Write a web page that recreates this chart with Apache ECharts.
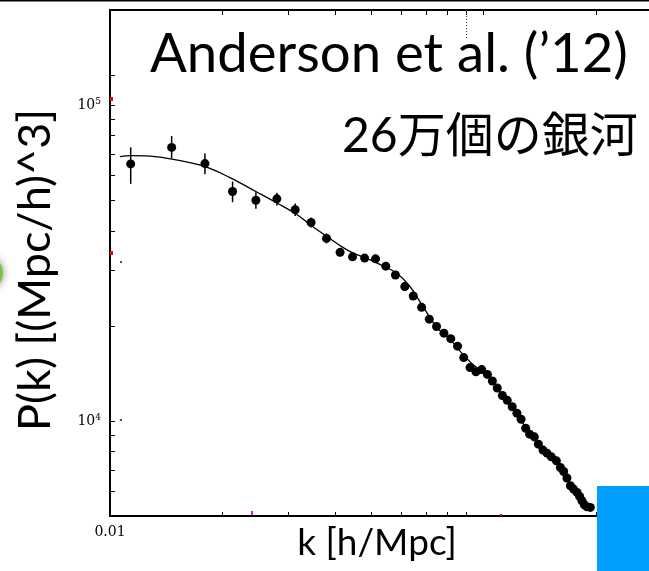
<!DOCTYPE html>
<html>
<head>
<meta charset="utf-8">
<script src="https://cdn.jsdelivr.net/npm/echarts@6/dist/echarts.min.js"></script>
<style>
  html, body { margin: 0; padding: 0; background: #fff; }
  #chart { width: 649px; height: 571px; }
</style>
</head>
<body>
<div id="chart"></div>
<script>
// Measured galaxy power spectrum P(k) with the best-fit model curve.
const kData = [0.01136, 0.01462, 0.01795, 0.02128, 0.02457, 0.02796, 0.0313, 0.03453, 0.03797, 0.04128,
  0.04456, 0.04801, 0.05136, 0.0547, 0.05806, 0.0615, 0.0648, 0.06821, 0.07151, 0.07478,
  0.07827, 0.08163, 0.08511, 0.08842, 0.09192, 0.09531, 0.09878, 0.1023, 0.1055, 0.1087,
  0.1122, 0.1156, 0.1192, 0.1227, 0.1259, 0.1295, 0.1327, 0.1366, 0.1401, 0.1441,
  0.1477, 0.1517, 0.1565, 0.1604, 0.1637, 0.167, 0.1706, 0.174, 0.1777, 0.1806,
  0.1832, 0.1859, 0.1889, 0.1929];
const pData = [65130, 73460, 65270, 53240, 49980, 50490, 46620, 42500, 37840, 34170,
  33070, 32780, 32590, 30910, 28970, 26630, 24870, 22890, 21000, 19910,
  18960, 18220, 17250, 15870, 14750, 14310, 14540, 14040, 13380, 12710,
  12040, 11620, 11090, 10580, 10120, 9483, 9078, 8903, 8442, 8083,
  7907, 7697, 7474, 7120, 6916, 6594, 6233, 6085, 5938, 5767,
  5589, 5429, 5350, 5323];
// 1-sigma bounds for the low-k bins (the rest are smaller than the markers)
const errLow  = [56300, 67820, 60380, 49260, 46950, 48080, 44560, 40990, 36490, 33190];
const errHigh = [73460, 79800, 70200, 57260, 52970, 52750, 48800, 44070, 39240, 35180];

// Model curve
const kModel = [0.010635, 0.01138, 0.01279, 0.01465, 0.01795, 0.02094, 0.02457, 0.02796, 0.03162, 0.03425,
  0.03804, 0.04198, 0.04464, 0.04867, 0.05273, 0.05853, 0.0634, 0.06871, 0.07486, 0.08112,
  0.08788, 0.09461, 0.1019, 0.1083, 0.1173, 0.1287, 0.1412, 0.1548, 0.1698, 0.1828, 0.1945];
const pModel = [68690, 69180, 68930, 67430, 63850, 58940, 53240, 48970, 45040, 41880,
  38380, 35430, 34050, 32720, 31310, 29330, 26690, 23080, 19810, 18150,
  16280, 14920, 14070, 12800, 11400, 9643, 8277, 7586, 6324, 5672, 5312];

// Axis ticks and labels
const xTicksBottom = [0.02, 0.03, 0.04, 0.05, 0.06, 0.07, 0.08, 0.09, 0.2];
const xTicksTop = [0.02, 0.03, 0.04, 0.05, 0.06, 0.07, 0.08, 0.09, 0.1, 0.2];
const xLabels = [0.01];
const yTicks = [6000, 7000, 8000, 9000, 10000, 20000, 30000, 40000, 50000, 60000, 70000, 80000, 90000, 100000, 124000];
const yLabels = [10000, 100000];

const chart = echarts.init(document.getElementById('chart'), null, { renderer: 'canvas' });

const labelFont = 'DejaVu Serif';
const black = '#000';

const option = {
  animation: false,
  backgroundColor: '#fff',
  grid: { left: 110, top: 10, right: -13, bottom: 55, containLabel: false, outerBoundsMode: 'none' },
  xAxis: [
    {
      type: 'log', logBase: 10, min: 0.01, max: 0.3, position: 'bottom',
      name: 'k [h/Mpc]', nameLocation: 'middle', nameGap: 9, nameMoveOverlap: false,
      nameTextStyle: { fontFamily: 'Lato', fontSize: 37, color: black, verticalAlign: 'top', padding: [0, 18, 0, 0] },
      axisLine: { lineStyle: { color: black, width: 2 } },
      axisTick: { inside: true, length: 4, customValues: xTicksBottom, lineStyle: { color: black, width: 1 } },
      axisLabel: { customValues: xLabels, formatter: v => v.toFixed(2), fontFamily: labelFont, fontSize: 14, color: black, margin: 9 },
      splitLine: { show: false }, minorTick: { show: false }
    },
    {
      type: 'log', logBase: 10, min: 0.01, max: 0.3, position: 'top',
      axisLine: { lineStyle: { color: black, width: 2 } },
      axisTick: { inside: true, length: 5, customValues: xTicksTop, lineStyle: { color: black, width: 1 } },
      axisLabel: { show: false },
      splitLine: { show: false }
    }
  ],
  yAxis: {
    type: 'log', logBase: 10, min: 5000, max: 200000,
    name: 'P(k) [(Mpc/h)^3]', nameLocation: 'middle', nameGap: 52, nameRotate: 90, nameMoveOverlap: false,
    nameTextStyle: { fontFamily: 'Lato', fontSize: 45, color: black, padding: [0, 14, 0, 0] },
    axisLine: { lineStyle: { color: black, width: 2 } },
    axisTick: { inside: true, length: 5, customValues: yTicks, lineStyle: { color: black, width: 1 } },
    axisLabel: {
      customValues: yLabels, margin: 9,
      formatter: v => '10{e|' + Math.round(Math.log10(v)) + '}',
      fontFamily: labelFont, fontSize: 14, color: black,
      rich: { e: { fontFamily: labelFont, fontSize: 9, color: black, verticalAlign: 'top', padding: [0, 0, 6, 0] } }
    },
    splitLine: { show: false }
  },
  series: [
    {
      type: 'line', name: 'model', xAxisIndex: 0,
      data: kModel.map((k, i) => [k, pModel[i]]),
      smooth: 0.4, showSymbol: false, symbol: 'none',
      lineStyle: { color: black, width: 1.3 }, z: 2
    },
    {
      type: 'custom', name: 'errors', xAxisIndex: 0,
      data: errLow.map((lo, i) => [kData[i], lo, errHigh[i]]),
      encode: { x: 0, y: [1, 2] },
      renderItem: (params, api) => {
        const a = api.coord([api.value(0), api.value(1)]);
        const b = api.coord([api.value(0), api.value(2)]);
        return { type: 'line', shape: { x1: a[0], y1: a[1], x2: b[0], y2: b[1] }, style: { stroke: black, lineWidth: 1.5 } };
      },
      z: 3
    },
    {
      type: 'scatter', name: 'data', xAxisIndex: 0,
      data: kData.map((k, i) => [k, pData[i]]),
      symbol: 'circle', symbolSize: 9,
      itemStyle: { color: black, opacity: 1 }, z: 4
    }
  ],
  graphic: [
    { type: 'line', shape: { x1: 0, y1: 0.5, x2: 649, y2: 0.5 }, style: { stroke: black, lineWidth: 2 }, z: 10 },
    { type: 'line', shape: { x1: 466.5, y1: 10, x2: 466.5, y2: 38 }, style: { stroke: '#333', lineWidth: 1, lineDash: [1, 2] }, z: 10 },
    { type: 'text', left: 150, top: 27, style: { text: 'Anderson et al. (\u201912)', fontFamily: 'Lato', fontSize: 54.5, fill: black }, z: 10 },
    { type: 'text', left: 342, top: 113, style: { text: '26万個の銀河', fontFamily: "Lato, 'Noto Sans CJK JP'", fontSize: 48, fill: black }, z: 10 },
    { type: 'rect', shape: { x: 597, y: 486, width: 60, height: 90 }, style: { fill: '#009ffd' }, z: 10 },
    { type: 'circle', shape: { cx: -14, cy: 273, r: 17 }, style: { fill: '#7cc242', shadowBlur: 8, shadowColor: 'rgba(0,0,0,0.45)' }, z: 10 },
    { type: 'rect', shape: { x: 110, y: 97, width: 3, height: 4 }, style: { fill: '#f00' }, z: 11 },
    { type: 'rect', shape: { x: 110, y: 251, width: 3, height: 4 }, style: { fill: '#f00' }, z: 11 },
    { type: 'rect', shape: { x: 251, y: 511, width: 2, height: 4 }, style: { fill: '#f0f' }, z: 11 },
    { type: 'rect', shape: { x: 500, y: 514, width: 2, height: 2 }, style: { fill: '#f00' }, z: 11 },
    { type: 'rect', shape: { x: 120, y: 261, width: 2, height: 2 }, style: { fill: '#555' }, z: 11 },
    { type: 'rect', shape: { x: 120, y: 419, width: 2, height: 2 }, style: { fill: '#555' }, z: 11 }
  ]
};

chart.setOption(option);
</script>
</body>
</html>
